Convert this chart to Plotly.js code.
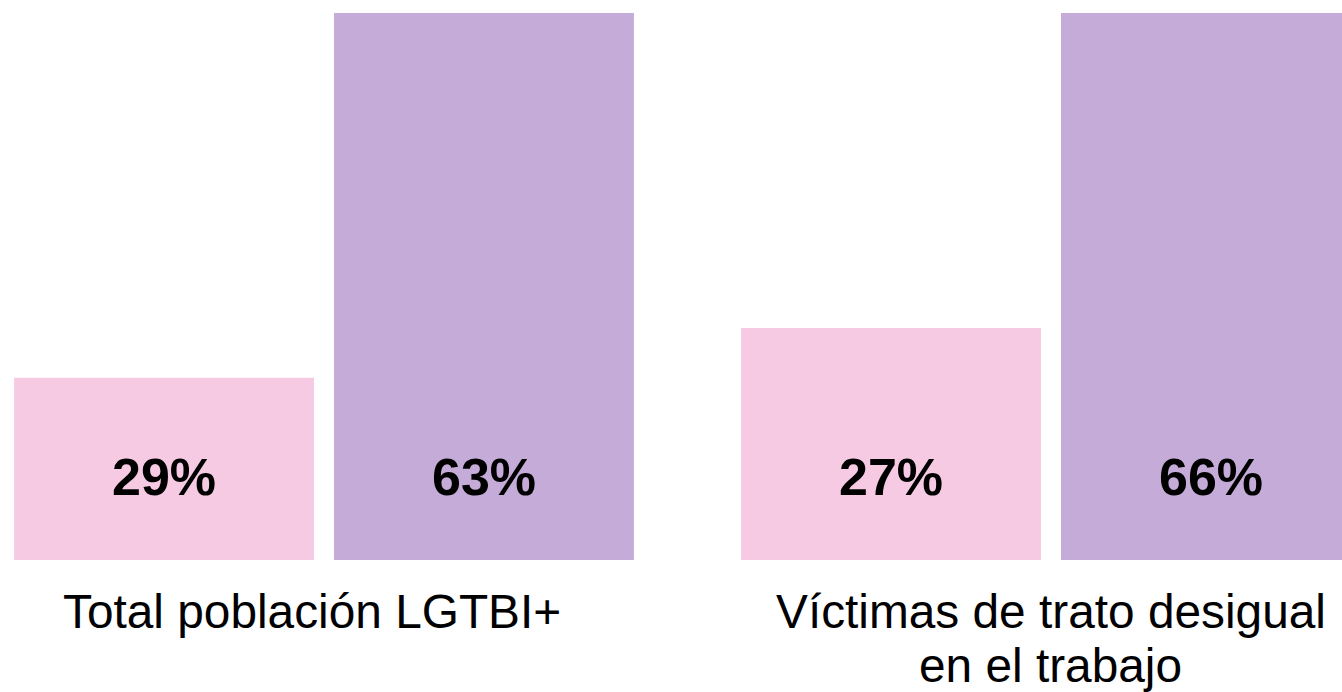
<!DOCTYPE html>
<html>
<head>
<meta charset="utf-8">
<script src="https://cdn.plot.ly/plotly-3.0.1.min.js"></script>
<style>html,body{margin:0;padding:0;background:#fff;}#chart{width:1342px;height:692px;}</style>
</head>
<body>
<div id="chart"></div>
<script>
// Categories (each entry = lines of the category label)
const categories = ["Total población LGTBI+", "Víctimas de trato desigual"];
const categoryLines = [["Total población LGTBI+"], ["Víctimas de trato desigual", "en el trabajo"]];
// Displayed percentages
const pinkLabels = ["29%", "27%"];
const purpleLabels = ["63%", "66%"];
// Bar heights as drawn in the picture (share of the visible axis height)
const pinkHeights = [33.3, 42.4];
const purpleHeights = [100, 100];

const PINK = "#F7CAE4";
const PURPLE = "#C5ABD8";

const traces = [
  {type: "bar", x: categories, y: pinkHeights, marker: {color: PINK}, hoverinfo: "skip", cliponaxis: true},
  {type: "bar", x: categories, y: purpleHeights, marker: {color: PURPLE}, hoverinfo: "skip", cliponaxis: true}
];

const labelXShift = [-12, 0];
const annotations = [];
categories.forEach((c, i) => {
  annotations.push({x: c, xref: "x", y: 15.2, yref: "y", xshift: -160, text: "<b>" + pinkLabels[i] + "</b>",
    showarrow: false, font: {family: "Liberation Sans, Arial, sans-serif", size: 52, color: "#000"}, yanchor: "middle"});
  annotations.push({x: c, xref: "x", y: 15.2, yref: "y", xshift: 160, text: "<b>" + purpleLabels[i] + "</b>",
    showarrow: false, font: {family: "Liberation Sans, Arial, sans-serif", size: 52, color: "#000"}, yanchor: "middle"});
  categoryLines[i].forEach((line, j) => {
    annotations.push({x: c, xref: "x", y: 0, yref: "paper", yanchor: "middle", yshift: -51 - j * 54, xshift: labelXShift[i],
      text: line, showarrow: false, font: {family: "Liberation Sans, Arial, sans-serif", size: 47.8, color: "#000"}});
  });
});

const layout = {
  width: 1342, height: 692,
  margin: {l: 0, r: 0, t: 13, b: 132, pad: 0},
  paper_bgcolor: "#fff", plot_bgcolor: "#fff",
  barmode: "group", bargap: 0.12, bargroupgap: 0.0625,
  showlegend: false,
  xaxis: {type: "category", range: [-0.4457, 1.4003], showticklabels: false, showgrid: false, zeroline: false, showline: false, ticks: ""},
  yaxis: {range: [0, 100], showticklabels: false, showgrid: false, zeroline: false, showline: false, ticks: ""},
  annotations: annotations
};

Plotly.newPlot("chart", traces, layout, {staticPlot: true, displayModeBar: false});
</script>
</body>
</html>
